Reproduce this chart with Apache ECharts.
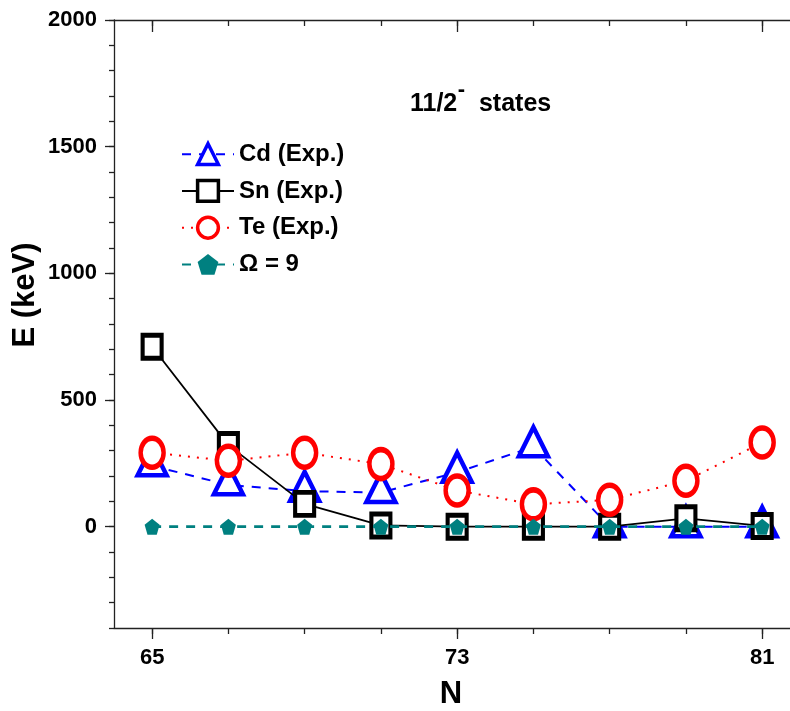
<!DOCTYPE html>
<html><head><meta charset="utf-8">
<script src="https://cdn.jsdelivr.net/npm/echarts@6/dist/echarts.min.js"></script>
<style>html,body{margin:0;padding:0;background:#fff}#c{width:790px;height:711px}</style>
</head><body><div id="c"></div>
<script>
const N = [65, 67, 69, 71, 73, 75, 77, 79, 81];
const cdExp = [240, 165, 140, 135, 215, 315, 0, 0, 0];
const snExp = [710, 322, 90, 5, 0, 0, 0, 33, 3];
const teExp = [292, 260, 292, 247, 143, 88, 106, 181, 332];
const omega9 = [0, 0, 0, 0, 0, 0, 0, 0, 0];
const xMajorTicks = [65, 73, 81];
const xMinorTicks = [65, 67, 69, 71, 73, 75, 77, 79, 81];
const yMajorTicks = [0, 500, 1000, 1500, 2000];
const seriesNames = ['Cd (Exp.)', 'Sn (Exp.)', 'Te (Exp.)', '\u03A9 = 9'];

const FONT = '"Liberation Sans", Arial, sans-serif';
const AX = '#222';
const pair = arr => N.map((n, i) => [n, arr[i]]);
const pentagon = 'path://M0,-1 L0.951,-0.309 L0.588,0.809 L-0.588,0.809 L-0.951,-0.309 Z';

const xBase = { type: 'value', min: 64, max: 81.73, splitLine: { show: false } };
const yBase = { type: 'value', min: -400, max: 2000, interval: 100, splitLine: { show: false } };
const tickLabel = { color: '#000', fontFamily: FONT, fontWeight: 'bold', fontSize: 22, formatter: v => String(v) };

const chart = echarts.init(document.getElementById('c'), null, { renderer: 'canvas' });
chart.setOption({
  animation: false,
  backgroundColor: '#fff',
  grid: { left: 114, top: 20, right: 0, bottom: 83, containLabel: false },
  xAxis: [
    Object.assign({}, xBase, {
      position: 'bottom',
      axisLine: { show: true, onZero: false, lineStyle: { color: AX, width: 1.3 } },
      axisTick: { show: true, inside: false, length: 11, customValues: xMajorTicks, lineStyle: { color: AX, width: 1.3 } },
      axisLabel: Object.assign({ show: true, customValues: xMajorTicks, margin: 19 }, tickLabel)
    }),
    Object.assign({}, xBase, {
      position: 'bottom',
      axisLine: { show: false, onZero: false },
      axisTick: { show: true, inside: false, length: 6, customValues: xMinorTicks, lineStyle: { color: AX, width: 1.3 } },
      axisLabel: { show: false }
    }),
    Object.assign({}, xBase, {
      position: 'top',
      axisLine: { show: true, onZero: false, lineStyle: { color: AX, width: 1.3 } },
      axisTick: { show: true, inside: true, length: 12, customValues: xMajorTicks, lineStyle: { color: AX, width: 1.3 } },
      axisLabel: { show: false }
    }),
    Object.assign({}, xBase, {
      position: 'top',
      axisLine: { show: false, onZero: false },
      axisTick: { show: true, inside: true, length: 6, customValues: xMinorTicks, lineStyle: { color: AX, width: 1.3 } },
      axisLabel: { show: false }
    })
  ],
  yAxis: [
    Object.assign({}, yBase, {
      position: 'left',
      axisLine: { show: true, onZero: false, lineStyle: { color: AX, width: 1.3 } },
      axisTick: { show: true, inside: false, length: 5, lineStyle: { color: AX, width: 1.3 } },
      axisLabel: Object.assign({ show: true, customValues: yMajorTicks, margin: 17 }, tickLabel)
    }),
    Object.assign({}, yBase, {
      position: 'left',
      axisLine: { show: false, onZero: false },
      axisTick: { show: true, inside: false, length: 9, customValues: yMajorTicks, lineStyle: { color: AX, width: 1.3 } },
      axisLabel: { show: false }
    })
  ],
  legend: {
    orient: 'vertical', left: 176, top: 137,
    itemWidth: 52, itemHeight: 26, itemGap: 12.5,
    itemStyle: { borderWidth: 3.5 },
    textStyle: { fontFamily: FONT, fontWeight: 'bold', fontSize: 24, color: '#000' },
    data: seriesNames
  },
  series: [
    {
      name: seriesNames[0], type: 'line', data: pair(cdExp), z: 2,
      symbol: 'triangle', symbolSize: [29, 29], symbolOffset: [0, -5],
      lineStyle: { color: '#0000ff', width: 2, type: [9, 8] },
      itemStyle: { color: '#ffffff', borderColor: '#0000ff', borderWidth: 4.5 }
    },
    {
      name: seriesNames[1], type: 'line', data: pair(snExp), z: 3,
      symbol: 'rect', symbolSize: [19, 23],
      lineStyle: { color: '#000000', width: 1.8, type: 'solid' },
      itemStyle: { color: '#ffffff', borderColor: '#000000', borderWidth: 4.5 }
    },
    {
      name: seriesNames[2], type: 'line', data: pair(teExp), z: 4,
      symbol: 'circle', symbolSize: [23, 29],
      lineStyle: { color: '#ff0000', width: 2, type: [2, 7] },
      itemStyle: { color: '#ffffff', borderColor: '#ff0000', borderWidth: 5 }
    },
    {
      name: seriesNames[3], type: 'line', data: pair(omega9), z: 5,
      symbol: pentagon, symbolSize: [15, 16],
      lineStyle: { color: '#008080', width: 2.6, type: [9, 8] },
      itemStyle: { color: '#008080', borderWidth: 0 }
    }
  ],
  graphic: [
    { type: 'text', x: 25, y: 295, rotation: Math.PI / 2,
      style: { text: 'E (keV)', font: 'bold 31px ' + FONT, fill: '#000', textAlign: 'center', textVerticalAlign: 'middle' } },
    { type: 'text', x: 451, y: 694,
      style: { text: 'N', font: 'bold 31px ' + FONT, fill: '#000', textAlign: 'center', textVerticalAlign: 'middle' } },
    { type: 'text', x: 410, y: 104,
      style: { text: '11/2', font: 'bold 25px ' + FONT, fill: '#000', textAlign: 'left', textVerticalAlign: 'middle' } },
    { type: 'text', x: 461.5, y: 90,
      style: { text: '-', font: 'bold 22px ' + FONT, fill: '#000', textAlign: 'center', textVerticalAlign: 'middle' } },
    { type: 'text', x: 472, y: 104,
      style: { text: ' states', font: 'bold 25px ' + FONT, fill: '#000', textAlign: 'left', textVerticalAlign: 'middle' } }
  ]
});
</script>
</body></html>
